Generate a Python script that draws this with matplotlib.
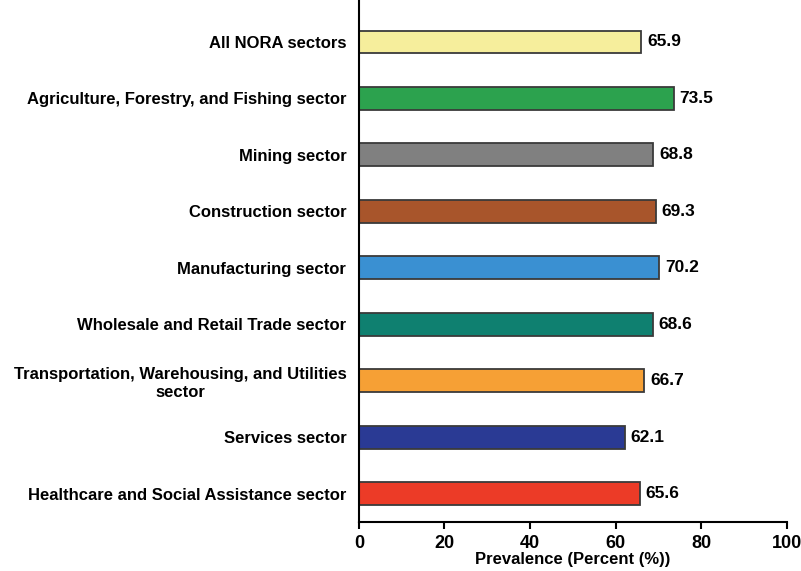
import matplotlib.pyplot as plt
import numpy as np

plt.rcParams['font.family'] = ['Liberation Sans', 'DejaVu Sans']
plt.rcParams['font.weight'] = 'bold'

sectors = ["All NORA sectors",
           "Agriculture, Forestry, and Fishing sector",
           "Mining sector",
           "Construction sector",
           "Manufacturing sector",
           "Wholesale and Retail Trade sector",
           "Transportation, Warehousing, and Utilities\nsector",
           "Services sector",
           "Healthcare and Social Assistance sector"]
values = [65.9, 73.5, 68.8, 69.3, 70.2, 68.6, 66.7, 62.1, 65.6]
colors = ["#F6EE9C", "#2CA24E", "#808080", "#A8552B", "#3A90D2",
          "#0F8070", "#F6A035", "#2A3A94", "#EC3B27"]

fig = plt.figure(figsize=(8.01, 5.71), dpi=100)
ax = fig.add_axes([0.448, 0.0858, 0.5345, 0.9142])

y = np.arange(len(sectors))
ax.barh(y, values, height=0.4, color=colors, edgecolor="#3a3a3a", linewidth=1.3)
for yi, v in zip(y, values):
    ax.text(v + 1.4, yi, f"{v:.1f}", va="center", ha="left", fontsize=12.5, fontweight="bold")

ax.set_yticks(y)
ax.set_yticklabels(sectors, fontsize=12, fontweight="bold", ha="right", multialignment="center")
ax.tick_params(axis="y", length=0, pad=9)
ax.set_ylim(8.5, -0.74)
ax.set_xlim(0, 100)
ax.set_xticks([0, 20, 40, 60, 80, 100])
ax.tick_params(axis="x", labelsize=13, width=1.5, length=5, pad=4)
ax.set_xlabel("Prevalence (Percent (%))", fontsize=12, fontweight="bold", labelpad=0)

ax.spines["top"].set_visible(False)
ax.spines["right"].set_visible(False)
ax.spines["left"].set_linewidth(1.5)
ax.spines["bottom"].set_linewidth(1.5)

fig.savefig("out.png", dpi=100)
